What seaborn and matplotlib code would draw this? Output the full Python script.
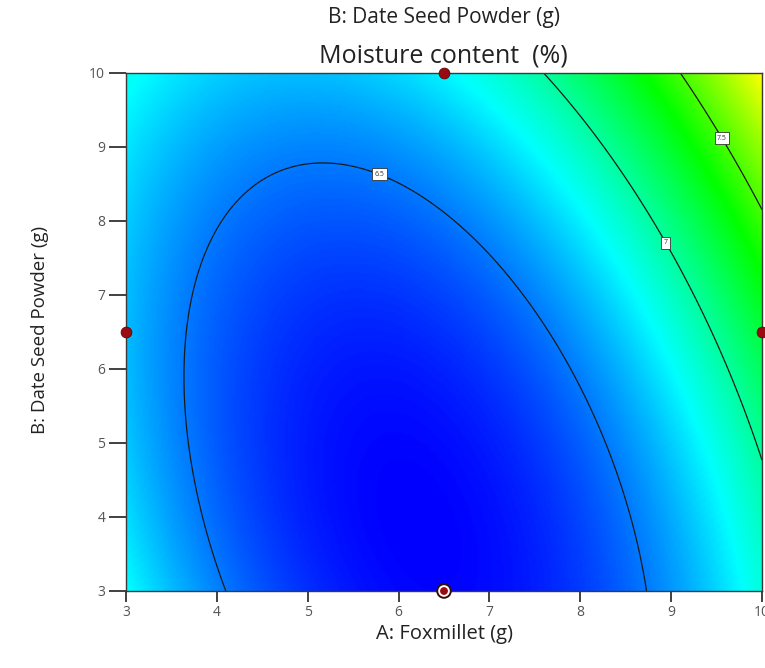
import numpy as np
import matplotlib
matplotlib.use("Agg")
import matplotlib.pyplot as plt
from matplotlib.colors import LinearSegmentedColormap
import pandas as pd
import seaborn as sns

a_range = [3, 10]
b_range = [3, 10]
# coefficients: intercept, A, B, AB, A^2, B^2 (coded -1..+1)
model_terms = ["I", "A", "B", "AB", "A2", "B2"]
model_coefs = [6.3421, 0.2841, 0.2656, 0.2550, 0.5909, 0.1653]

contour_levels = [6.5, 7.0, 7.5]
label_pos_A = [5.80, 8.96, 9.58]
label_pos_B = [8.67, 7.72, 9.13]

# design points
pts_A = [6.5, 3.0, 10.0]
pts_B = [10.0, 6.5, 6.5]
center_A = [6.5]
center_B = [3.0]

x_ticks = [3, 4, 5, 6, 7, 8, 9, 10]
y_ticks = [3, 4, 5, 6, 7, 8, 9, 10]

sns.set_theme(style="ticks")
plt.rcParams["font.family"] = ["Open Sans", "DejaVu Sans"]

fig = plt.figure(figsize=(7.65, 6.68), dpi=100)
ax = fig.add_axes([126/765, 1-591/668, 636/765, 518/668])

ga = np.linspace(a_range[0], a_range[1], 300)
gb = np.linspace(b_range[0], b_range[1], 300)
GA, GB = np.meshgrid(ga, gb)
cA = (GA - 6.5) / 3.5
cB = (GB - 6.5) / 3.5
c = dict(zip(model_terms, model_coefs))
Z = c["I"] + c["A"]*cA + c["B"]*cB + c["AB"]*cA*cB + c["A2"]*cA**2 + c["B2"]*cB**2

cmap = LinearSegmentedColormap.from_list("de", ["#0000ff", "#00ffff", "#00ff00", "#ffff00", "#ff0000"])
zmin, zmax = Z.min(), Z.max()
vmax = zmin + (zmax - zmin) / 0.75
ax.pcolormesh(GA, GB, Z, cmap=cmap, vmin=zmin, vmax=vmax, shading="gouraud", rasterized=True)
cs = ax.contour(GA, GB, Z, levels=contour_levels, colors="#1a1a1a", linewidths=0.9)
labels = ax.clabel(cs, fmt="%g", fontsize=5, inline=False,
                   manual=list(zip(label_pos_A, label_pos_B)))
for t in labels:
    t.set_rotation(0)
    t.set_bbox(dict(facecolor="white", edgecolor="#333333", boxstyle="square,pad=0.35", lw=0.6))
    t.set_color("#333333")

dpts = pd.DataFrame({"A": pts_A, "B": pts_B})
sns.scatterplot(data=dpts, x="A", y="B", ax=ax, s=60, color="#9b0a0f",
                edgecolor="#5a0508", linewidth=0.6, clip_on=False, zorder=5, legend=False)
cpts = pd.DataFrame({"A": center_A, "B": center_B})
sns.scatterplot(data=cpts, x="A", y="B", ax=ax, s=125, color="#3b0a0c",
                edgecolor="none", clip_on=False, zorder=5, legend=False)
sns.scatterplot(data=cpts, x="A", y="B", ax=ax, s=70, color="white",
                edgecolor="none", clip_on=False, zorder=6, legend=False)
sns.scatterplot(data=cpts, x="A", y="B", ax=ax, s=32, color="#9b0a0f",
                edgecolor="none", clip_on=False, zorder=7, legend=False)

ax.set_xlim(a_range)
ax.set_ylim(b_range)
ax.set_xticks(x_ticks)
ax.set_yticks(y_ticks)
ax.set_xlabel("")
ax.set_ylabel("")
ax.tick_params(axis="both", direction="out", length=8, width=1.4,
               color="#404040", labelcolor="#555555", labelsize=10, pad=2)
ax.tick_params(axis="y", length=12, pad=3)
for s in ax.spines.values():
    s.set_visible(True)
    s.set_color("#3a3a3a")
    s.set_linewidth(1.0)

fig.text(444/765, 1-18/668, "B: Date Seed Powder (g)", ha="center", va="center",
         fontsize=15, color="#222222")
fig.text(443/765, 1-56/668, "Moisture content  (%)", ha="center", va="center",
         fontsize=18, color="#222222")
fig.text(444/765, 1-634/668, "A: Foxmillet (g)", ha="center", va="center",
         fontsize=14.5, color="#222222")
fig.text(40/765, 1-330/668, "B: Date Seed Powder (g)", ha="center", va="center",
         rotation=90, fontsize=13.5, color="#222222",
         family=["Liberation Sans Narrow", "Open Sans", "DejaVu Sans"])

fig.savefig("out.png", dpi=100)
